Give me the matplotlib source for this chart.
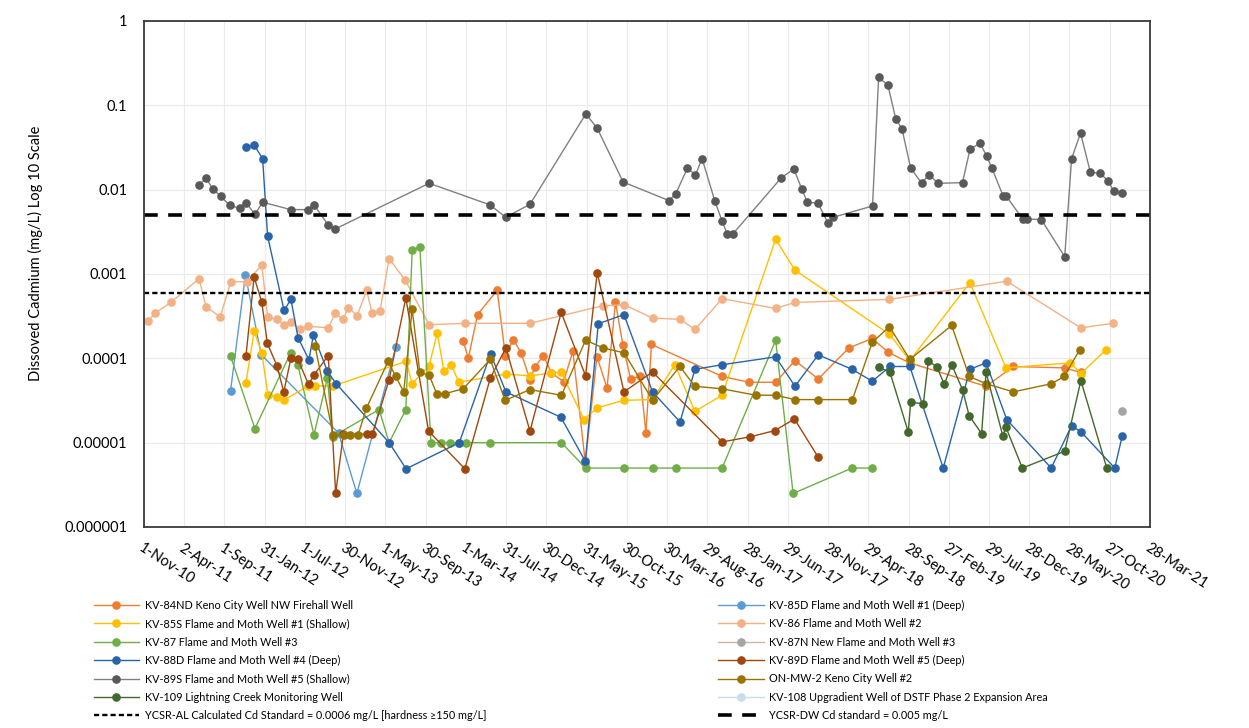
"""Dissolved cadmium in groundwater wells, log scale
"""
import pandas as pd
import matplotlib
matplotlib.use('Agg')
import matplotlib.pyplot as plt

plt.rcParams['font.family'] = ['Lato', 'DejaVu Sans']

# data (mg/L)
kv84nd_dates = ['2014-02-19', '2014-03-10', '2014-04-14', '2014-06-27', '2014-07-28', '2014-08-27',
                '2014-09-25', '2014-10-29', '2014-11-16', '2014-12-19', '2015-01-18', '2015-03-05',
                '2015-04-09', '2015-05-26', '2015-07-09', '2015-08-16', '2015-09-17', '2015-10-15',
                '2015-11-13', '2015-12-19', '2016-01-10', '2016-01-31', '2016-10-24', '2017-02-03',
                '2017-05-14', '2017-07-26', '2017-10-22', '2018-02-15', '2018-05-14', '2018-07-13',
                '2018-10-03', '2019-07-18', '2019-10-29', '2020-05-10', '2020-07-10']
kv84nd_cd = [0.00016, 0.0001, 0.00033, 0.00064, 0.000108, 0.000167,
             0.000117, 0.000056, 0.000078, 0.000108, 0.000067, 0.000053,
             0.000121, 0.0000058, 0.000105, 0.0000446, 0.00046, 0.000144,
             0.000057, 0.000061, 0.0000131, 0.000146, 0.000061, 0.000052,
             0.000052, 0.000094, 0.000057, 0.000133, 0.000172, 0.000118,
             0.000088, 0.0000466, 0.00008, 0.000077, 0.000068]

kv85d_dates = ['2011-09-24', '2011-11-19', '2012-01-18', '2012-11-05', '2013-01-13', '2013-06-09']
kv85d_cd = [0.0000414, 0.00097, 0.00011, 0.000013, 0.0000025, 0.000135]

kv85s_dates = ['2011-11-21', '2011-12-22', '2012-01-20', '2012-02-12', '2012-03-16', '2012-04-13',
               '2012-07-13', '2012-08-08', '2012-10-15', '2013-07-18', '2013-08-10', '2013-10-13',
               '2013-11-13', '2013-12-08', '2014-01-05', '2014-02-02', '2014-07-30', '2014-10-29',
               '2015-01-18', '2015-02-23', '2015-05-21', '2015-07-09', '2015-10-19', '2016-02-04',
               '2016-04-28', '2016-07-13', '2016-10-24', '2017-05-14', '2017-07-26', '2018-07-18',
               '2018-10-03', '2019-05-18', '2019-10-01', '2020-05-31', '2020-07-10', '2020-10-14']
kv85s_cd = [0.000051, 0.00021, 0.000116, 0.000037, 0.000035, 0.000032,
            0.000047, 0.000047, 0.000047, 0.000092, 0.00005, 0.000082,
            0.0002, 0.00007, 0.000084, 0.000052, 0.000065, 0.000062,
            0.000067, 0.000069, 0.0000188, 0.0000258, 0.0000318, 0.0000324,
            0.000084, 0.0000235, 0.0000365, 0.00258, 0.00111, 0.000193,
            0.000094, 0.00079, 0.000077, 0.0000885, 0.000066, 0.000127]

kv86_dates = ['2010-11-16', '2010-12-12', '2011-02-10', '2011-05-28', '2011-06-23', '2011-08-16',
              '2011-09-25', '2011-11-24', '2012-01-20', '2012-02-11', '2012-03-16', '2012-04-13',
              '2012-05-08', '2012-06-12', '2012-07-13', '2012-09-27', '2012-10-23', '2012-11-22',
              '2012-12-12', '2013-01-14', '2013-02-19', '2013-03-12', '2013-04-10', '2013-05-15',
              '2013-07-15', '2013-10-13', '2014-02-25', '2014-10-29', '2015-07-30', '2015-10-21',
              '2016-02-04', '2016-05-17', '2016-07-13', '2016-10-24', '2017-05-14', '2017-07-26',
              '2018-07-18', '2019-10-04', '2020-07-10', '2020-11-08']
kv86_cd = [0.000276, 0.00034, 0.00046, 0.00088, 0.00041, 0.00031,
           0.00081, 0.00081, 0.00127, 0.00031, 0.00029, 0.00025,
           0.00027, 0.00022, 0.00024, 0.00023, 0.00034, 0.00029,
           0.0004, 0.00032, 0.00064, 0.00034, 0.00036, 0.00152,
           0.00084, 0.00025, 0.00026, 0.00026, 0.00042, 0.00043,
           0.0003, 0.00029, 0.00022, 0.00051, 0.00039, 0.00046,
           0.0005, 0.00082, 0.00023, 0.00026]

kv87_dates = ['2011-09-24', '2011-12-25', '2012-05-08', '2012-06-04', '2012-08-04', '2012-09-24',
              '2012-10-14', '2013-04-07', '2013-05-15', '2013-07-17', '2013-08-10', '2013-09-08',
              '2013-10-20', '2013-11-28', '2013-12-30', '2014-02-03', '2014-02-28', '2014-06-01',
              '2015-02-25', '2015-05-27', '2015-10-19', '2016-02-04', '2016-05-02', '2016-10-24',
              '2017-05-14', '2017-07-19', '2018-02-27', '2018-05-14']
kv87_cd = [0.000106, 0.0000147, 0.000116, 0.000084, 0.0000124, 0.000059,
           0.0000118, 0.0000247, 0.00001, 0.0000247, 0.0019, 0.0021,
           0.00001, 0.00001, 0.00001, 0.00001, 0.00001, 0.00001,
           0.00001, 0.000005, 0.000005, 0.000005, 0.000005, 0.000005,
           0.000163, 0.0000025, 0.000005, 0.000005]

kv87n_dates = ['2020-12-13']
kv87n_cd = [0.0000235]

kv88d_dates = ['2011-11-21', '2011-12-22', '2012-01-23', '2012-02-11', '2012-04-13', '2012-05-09',
               '2012-06-05', '2012-07-16', '2012-08-02', '2012-09-24', '2012-10-27', '2013-05-15',
               '2013-07-18', '2014-02-04', '2014-06-02', '2014-07-30', '2015-02-23', '2015-05-26',
               '2015-07-14', '2015-10-19', '2016-02-04', '2016-05-18', '2016-07-13', '2016-10-24',
               '2017-05-14', '2017-07-26', '2017-10-22', '2018-02-27', '2018-05-14', '2018-07-20',
               '2018-10-03', '2019-02-06', '2019-05-18', '2019-07-18', '2019-10-04', '2020-03-20',
               '2020-06-05', '2020-07-11', '2020-11-15', '2020-12-13']
kv88d_cd = [0.0317, 0.0337, 0.0234, 0.0028, 0.00037, 0.0005,
            0.000175, 0.000096, 0.00019, 0.00007, 0.00005, 0.00001,
            0.0000049, 0.00001, 0.000113, 0.00004, 0.00002, 0.000006,
            0.000257, 0.00033, 0.00004, 0.0000176, 0.000074, 0.000084,
            0.000104, 0.0000466, 0.00011, 0.000074, 0.0000535, 0.00008,
            0.00008, 0.000005, 0.000074, 0.0000885, 0.0000188, 0.000005,
            0.0000159, 0.0000134, 0.000005, 0.0000119]

kv89d_dates = ['2011-11-21', '2011-12-22', '2012-01-20', '2012-02-10', '2012-03-17', '2012-04-12',
               '2012-05-09', '2012-06-04', '2012-07-15', '2012-08-05', '2012-09-27', '2012-10-25',
               '2012-11-23', '2013-02-19', '2013-03-13', '2013-05-15', '2013-07-17', '2013-10-11',
               '2014-02-25', '2014-06-01', '2014-07-30', '2014-10-29', '2015-02-24', '2015-05-27',
               '2015-07-10', '2015-10-19', '2016-02-04', '2016-10-24', '2017-02-05', '2017-05-11',
               '2017-07-24', '2017-10-22']
kv89d_cd = [0.000106, 0.00092, 0.00046, 0.00015, 0.000082, 0.00004,
            0.0001, 0.000097, 0.000049, 0.000064, 0.000108, 0.0000025,
            0.0000126, 0.0000126, 0.0000126, 0.000056, 0.00052, 0.0000137,
            0.0000049, 0.000058, 0.000133, 0.0000137, 0.00035, 0.000062,
            0.00104, 0.00004, 0.000069, 0.0000102, 0.0000117, 0.0000139,
            0.0000191, 0.0000067]

kv89s_dates = ['2011-05-28', '2011-06-23', '2011-07-20', '2011-08-17', '2011-09-21', '2011-10-29',
               '2011-11-21', '2011-12-25', '2012-01-23', '2012-05-08', '2012-07-13', '2012-08-04',
               '2012-09-27', '2012-10-22', '2013-10-13', '2014-05-31', '2014-07-29', '2014-10-29',
               '2015-05-28', '2015-07-10', '2015-10-16', '2016-04-07', '2016-05-02', '2016-06-15',
               '2016-07-15', '2016-08-09', '2016-09-26', '2016-10-24', '2016-11-12', '2016-12-04',
               '2017-06-05', '2017-07-22', '2017-08-20', '2017-09-11', '2017-10-21', '2017-11-28',
               '2017-12-17', '2018-05-15', '2018-06-07', '2018-07-12', '2018-08-11', '2018-09-03',
               '2018-10-06', '2018-11-17', '2018-12-14', '2019-01-18', '2019-04-20', '2019-05-18',
               '2019-06-25', '2019-07-20', '2019-08-08', '2019-09-21', '2019-10-03', '2019-12-03',
               '2019-12-18', '2020-02-12', '2020-05-10', '2020-06-05', '2020-07-09', '2020-08-15',
               '2020-09-20', '2020-10-21', '2020-11-11', '2020-12-13']
kv89s_cd = [0.0113, 0.0137, 0.0101, 0.0084, 0.0065, 0.006,
            0.007, 0.0051, 0.0071, 0.0058, 0.0058, 0.0066,
            0.0038, 0.0034, 0.0119, 0.0066, 0.0047, 0.0067,
            0.079, 0.0535, 0.0123, 0.0074, 0.009, 0.018,
            0.0149, 0.0234, 0.0074, 0.0042, 0.003, 0.003,
            0.0139, 0.0175, 0.0103, 0.0071, 0.0069, 0.004,
            0.0047, 0.0064, 0.214, 0.174, 0.0685, 0.053,
            0.018, 0.0119, 0.0151, 0.0119, 0.0121, 0.03,
            0.0356, 0.0251, 0.0183, 0.0083, 0.0083, 0.0045,
            0.0045, 0.0044, 0.0016, 0.0234, 0.0467, 0.016,
            0.0157, 0.0127, 0.0096, 0.0091]

onmw2_dates = ['2012-08-08', '2012-10-15', '2012-11-24', '2012-12-18', '2013-01-18', '2013-02-18',
               '2013-05-11', '2013-06-09', '2013-07-09', '2013-08-10', '2013-09-08', '2013-10-13',
               '2013-11-11', '2013-12-11', '2014-02-19', '2014-06-01', '2014-07-27', '2014-10-29',
               '2015-02-25', '2015-05-27', '2015-08-01', '2015-10-20', '2016-02-04', '2016-05-17',
               '2016-07-13', '2016-10-24', '2017-02-28', '2017-05-14', '2017-07-26', '2017-10-22',
               '2018-02-28', '2018-05-14', '2018-07-18', '2018-10-03', '2019-03-10', '2019-05-15',
               '2019-07-18', '2019-10-29', '2020-03-21', '2020-05-08', '2020-07-06']
onmw2_cd = [0.000141, 0.0000124, 0.0000124, 0.0000124, 0.0000124, 0.0000255,
            0.000092, 0.000061, 0.00004, 0.00038, 0.000068, 0.000063,
            0.000038, 0.000038, 0.0000436, 0.000097, 0.0000317, 0.0000426,
            0.0000364, 0.000164, 0.000133, 0.000116, 0.0000318, 0.00008,
            0.0000466, 0.0000435, 0.0000365, 0.0000365, 0.0000324, 0.0000324,
            0.0000324, 0.000155, 0.000237, 0.000097, 0.000245, 0.000061,
            0.00005, 0.00004, 0.00005, 0.000061, 0.000127]

kv109_dates = ['2018-06-09', '2018-07-20', '2018-09-27', '2018-10-06', '2018-11-23', '2018-12-12',
               '2019-01-14', '2019-02-10', '2019-03-10', '2019-04-20', '2019-05-15', '2019-07-01',
               '2019-07-18', '2019-09-19', '2019-10-01', '2019-12-02', '2020-05-10', '2020-07-10',
               '2020-10-16']
kv109_cd = [0.000078, 0.000068, 0.0000134, 0.00003, 0.000029, 0.000094,
            0.000078, 0.000049, 0.000084, 0.0000426, 0.0000209, 0.0000128,
            0.000068, 0.0000121, 0.0000152, 0.000005, 0.0000079, 0.0000545,
            0.000005]

kv108_dates = []
kv108_cd = []

al_standard = 0.0006
dw_standard = 0.005

# plotting order follows the original series order
series = [
    ('KV-84ND Keno City Well NW Firehall Well', kv84nd_dates, kv84nd_cd, '#ED7D31', '#ED7D31'),
    ('KV-85D Flame and Moth Well #1 (Deep)', kv85d_dates, kv85d_cd, '#5B9BD5', '#5B9BD5'),
    ('KV-85S Flame and Moth Well #1 (Shallow)', kv85s_dates, kv85s_cd, '#FFC000', '#FFC000'),
    ('KV-86 Flame and Moth Well #2', kv86_dates, kv86_cd, '#F4B183', '#F4B183'),
    ('KV-87 Flame and Moth Well #3', kv87_dates, kv87_cd, '#70AD47', '#70AD47'),
    ('KV-87N New Flame and Moth Well #3', kv87n_dates, kv87n_cd, '#C9B8A8', '#A5A5A5'),
    ('KV-88D Flame and Moth Well #4 (Deep)', kv88d_dates, kv88d_cd, '#2A64A8', '#2A64A8'),
    ('KV-89D Flame and Moth Well #5 (Deep)', kv89d_dates, kv89d_cd, '#9E480E', '#9E480E'),
    ('KV-89S Flame and Moth Well #5 (Shallow)', kv89s_dates, kv89s_cd, '#808080', '#595959'),
    ('ON-MW-2 Keno City Well #2', onmw2_dates, onmw2_cd, '#997300', '#997300'),
    ('KV-109 Lightning Creek Monitoring Well', kv109_dates, kv109_cd, '#43682B', '#43682B'),
    ('KV-108 Upgradient Well of DSTF Phase 2 Expansion Area', kv108_dates, kv108_cd, '#C9DCEC', '#C9DCEC'),
]

fig = plt.figure(figsize=(12.49, 7.28), dpi=100)
ax = fig.add_axes([0.1153, 0.2761, 0.8054, 0.6951])

handles = {}
for label, dates, values, lcolor, mcolor in series:
    line, = ax.plot(pd.to_datetime(dates), values, color=lcolor, lw=1.0,
                    marker='o', markersize=5.2, markerfacecolor=mcolor,
                    markeredgecolor=mcolor, label=label)
    handles[label] = line

x0, x1 = pd.Timestamp('2010-11-01'), pd.Timestamp('2021-03-28')
al_line, = ax.plot([x0, x1], [al_standard, al_standard], color='black', lw=1.7,
                   dashes=(2.2, 1.3),
                   label='YCSR-AL Calculated Cd Standard = 0.0006 mg/L [hardness \u2265150 mg/L]')
dw_line, = ax.plot([x0, x1], [dw_standard, dw_standard], color='black', lw=2.6,
                   dashes=(3.8, 2.9), label='YCSR-DW Cd standard = 0.005 mg/L')

ax.set_yscale('log')
ax.set_ylim(1e-6, 1)
ax.set_xlim(x0, x1)
ax.set_yticks([1e-6, 1e-5, 1e-4, 1e-3, 1e-2, 1e-1, 1])
ax.set_yticklabels(['0.000001', '0.00001', '0.0001', '0.001', '0.01', '0.1', '1'], fontsize=10.5)
ax.minorticks_off()

tick_dates = pd.date_range(x0, periods=26, freq='152D')
ax.set_xticks(tick_dates)
ax.set_xticklabels([f"{d.day}-{d.strftime('%b-%y')}" for d in tick_dates], fontsize=10.5,
                   rotation=-33, ha='left', va='top', rotation_mode='anchor')
ax.tick_params(axis='both', length=0)
ax.tick_params(axis='x', pad=10)
ax.tick_params(axis='y', pad=12)

ax.grid(True, color='#EAEAEA', lw=0.8)
ax.set_axisbelow(True)
for s in ax.spines.values():
    s.set_color('#3A3A3A')
    s.set_linewidth(1.3)

ax.set_ylabel('Dissoved Cadmium (mg/L) Log 10 Scale', fontsize=10.5)
ax.yaxis.set_label_coords(-0.1, 0.54)

left_keys = ['KV-84ND Keno City Well NW Firehall Well', 'KV-85S Flame and Moth Well #1 (Shallow)',
             'KV-87 Flame and Moth Well #3', 'KV-88D Flame and Moth Well #4 (Deep)',
             'KV-89S Flame and Moth Well #5 (Shallow)', 'KV-109 Lightning Creek Monitoring Well']
right_keys = ['KV-85D Flame and Moth Well #1 (Deep)', 'KV-86 Flame and Moth Well #2',
              'KV-87N New Flame and Moth Well #3', 'KV-89D Flame and Moth Well #5 (Deep)',
              'ON-MW-2 Keno City Well #2',
              'KV-108 Upgradient Well of DSTF Phase 2 Expansion Area']
left_h = [handles[k] for k in left_keys] + [al_line]
right_h = [handles[k] for k in right_keys] + [dw_line]

leg_kw = dict(frameon=False, fontsize=7.8, handlelength=4.2, handletextpad=0.5,
              labelspacing=0.68, borderaxespad=0, borderpad=0, numpoints=1)
leg1 = fig.legend(handles=left_h, labels=[h.get_label() for h in left_h],
                  loc='upper left', bbox_to_anchor=(0.075, 0.176), **leg_kw)
leg2 = fig.legend(handles=right_h, labels=[h.get_label() for h in right_h],
                  loc='upper left', bbox_to_anchor=(0.575, 0.176), **leg_kw)

fig.savefig('out.png', dpi=100)
